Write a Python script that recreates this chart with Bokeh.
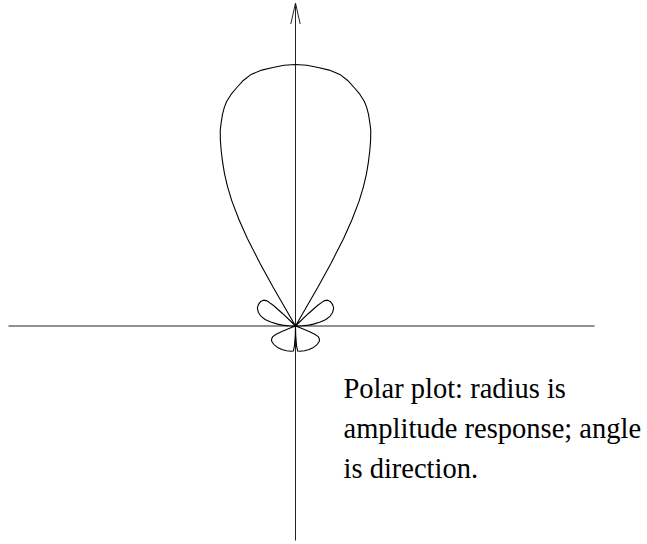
import numpy as np
from bokeh.plotting import figure
from bokeh.models import Range1d
from bokeh.core.properties import value
from bokeh.embed import file_html
from bokeh.resources import INLINE

# Amplitude response, normalised so the main-lobe peak is 1.0.
# Main lobe: offset from broadside (deg) -> amplitude (same on both sides)
main_offset_deg = [0, 2.5, 5, 7.5, 10, 12, 14, 15.5, 17, 18, 19, 20, 21, 22,
                   23, 24, 25, 26, 27, 28, 28.8, 29.5, 30, 30.5]
main_amp = [1.000, 0.998, 0.992, 0.987, 0.977, 0.960, 0.937, 0.920, 0.899,
            0.880, 0.857, 0.830, 0.803, 0.767, 0.727, 0.685, 0.642, 0.593,
            0.535, 0.459, 0.382, 0.275, 0.172, 0.000]

# Upper side lobes: elevation above the horizon (deg) -> amplitude
side_elev_deg = [0, 2, 4, 6, 9, 12, 16, 20, 25, 30, 35, 39, 41.5, 43, 44,
                 45, 45.5]
side_amp = [0.000, 0.027, 0.050, 0.069, 0.096, 0.119, 0.138, 0.151, 0.161,
            0.164, 0.163, 0.157, 0.145, 0.115, 0.069, 0.023, 0.000]

# Rear lobes: depression below the horizon (deg) -> amplitude
rear_depr_deg = [20, 21, 22, 23, 25, 28, 32, 40, 50, 60, 70, 80, 85, 87,
                 88.5, 90]
rear_amp = [0.000, 0.019, 0.054, 0.080, 0.096, 0.103, 0.108, 0.109, 0.107,
            0.104, 0.101, 0.098, 0.096, 0.076, 0.038, 0.000]

caption = ["Polar plot: radius is",
           "amplitude response; angle",
           "is direction."]

# Assemble the full trace, counter-clockwise from the +x direction
m_off = np.array(main_offset_deg); m_amp = np.array(main_amp)
s_el = np.array(side_elev_deg); s_amp = np.array(side_amp)
r_dp = np.array(rear_depr_deg); r_amp = np.array(rear_amp)

theta = np.concatenate([
    s_el,                      # upper-right side lobe
    90 - m_off[::-1],          # main lobe, right half
    90 + m_off[1:],            # main lobe, left half
    180 - s_el[::-1],          # upper-left side lobe
    180 + r_dp,                # lower-left rear lobe
    360 - r_dp[::-1],          # lower-right rear lobe
])
radius = np.concatenate([
    s_amp, m_amp[::-1], m_amp[1:], s_amp[::-1], r_amp, r_amp[::-1],
])
t = np.deg2rad(theta)
xs = radius * np.cos(t)
ys = radius * np.sin(t)

# Page geometry: origin of the polar plot and pixels per unit amplitude
W, H = 647, 544
OX, OY = 295.0, 325.5
PX = 261.5

p = figure(width=W, height=H, output_backend="svg", toolbar_location=None,
           x_axis_location=None, y_axis_location=None,
           x_range=Range1d(-OX / PX, (W - OX) / PX),
           y_range=Range1d(-(H - OY) / PX, OY / PX),
           min_border=0, min_border_left=0, min_border_right=0,
           min_border_top=0, min_border_bottom=0)
p.outline_line_color = None
p.grid.visible = False
p.background_fill_color = "white"
p.border_fill_color = "white"

# Coordinate axes through the origin, the vertical one with an open arrow
x_left, x_right = (8 - OX) / PX, (594 - OX) / PX
y_bottom, y_top = -(540 - OY) / PX, (OY - 2.5) / PX
p.line([x_left, x_right], [0, 0], line_color="#222222", line_width=1)
p.line([0, 0], [y_bottom, y_top], line_color="#222222", line_width=1)
head_len, head_half = 21 / PX, 4.7 / PX
p.line([-head_half, 0, head_half],
       [y_top - head_len, y_top, y_top - head_len],
       line_color="#222222", line_width=1)

# Radiation pattern
p.line(xs, ys, line_color="black", line_width=1.1)

# Caption
tx = (343 - OX) / PX
ty = [(OY - 387.5) / PX, (OY - 427.5) / PX, (OY - 467.5) / PX]
p.text(x=[tx] * 3, y=ty, text=caption,
       text_font=value("Liberation Serif"), text_font_size="28.5px",
       text_baseline="alphabetic", text_align="left", text_color="black")

open("out.html", "w").write(file_html(p, INLINE))
